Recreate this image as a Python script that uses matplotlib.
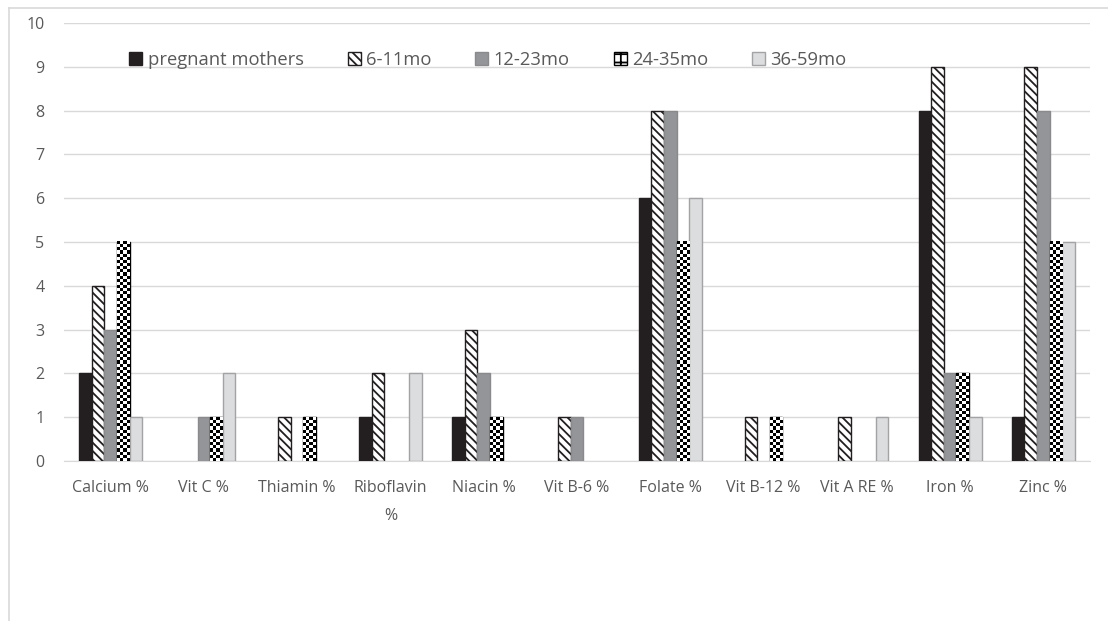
import numpy as np
import matplotlib.pyplot as plt

categories = ['Calcium %', 'Vit C %', 'Thiamin %', 'Riboflavin\n%', 'Niacin %', 'Vit B-6 %',
              'Folate %', 'Vit B-12 %', 'Vit A RE %', 'Iron %', 'Zinc %']
series = ['pregnant mothers', '6-11mo', '12-23mo', '24-35mo', '36-59mo']
pregnant = [2, 0, 0, 1, 1, 0, 6, 0, 0, 8, 1]
m6_11 = [4, 0, 1, 2, 3, 1, 8, 1, 1, 9, 9]
m12_23 = [3, 1, 0, 0, 2, 1, 8, 0, 0, 2, 8]
m24_35 = [5, 1, 1, 0, 1, 0, 5, 1, 0, 2, 5]
m36_59 = [1, 2, 0, 2, 0, 0, 6, 0, 1, 1, 5]
values = [pregnant, m6_11, m12_23, m24_35, m36_59]

styles = [
    dict(color='#231f20', edgecolor='#231f20', hatch=None),
    dict(color='white', edgecolor='#231f20', hatch='\\\\\\\\'),
    dict(color='#939598', edgecolor='#8a8a8d', hatch=None),
    dict(color='white', edgecolor='black', hatch='++'),
    dict(color='#dcdddf', edgecolor='#a3a3a5', hatch=None),
]

plt.rcParams['font.family'] = ['Open Sans', 'DejaVu Sans']
plt.rcParams['hatch.linewidth'] = 1.3

fig = plt.figure(figsize=(11.08, 6.21), dpi=100)
ax = fig.add_axes([64 / 1108, 1 - 461 / 621, 1026 / 1108, 438 / 621])

x = np.arange(len(categories))
w = 0.135
containers = []
for i, (name, vals, st) in enumerate(zip(series, values, styles)):
    lws = [1 if v > 0 else 0 for v in vals]
    bars = ax.bar(x + (i - 2) * w, vals, w, label=name, color=st['color'],
                  edgecolor=st['edgecolor'], hatch=st['hatch'], linewidth=lws, zorder=3)
    containers.append(bars)

# checkerboard fill for the 24-35mo bars
for rect in containers[3]:
    h = rect.get_height()
    if h <= 0:
        continue
    rows = int(round(h * 14))
    board = (np.add.outer(np.arange(rows), np.arange(4)) % 2).astype(float)
    x0 = rect.get_x()
    ax.imshow(board, cmap='gray', extent=[x0, x0 + rect.get_width(), 0, h],
              aspect='auto', interpolation='nearest', zorder=3.5, vmin=0, vmax=1)

ax.set_xlim(-0.5, len(categories) - 0.5)
ax.set_ylim(0, 10)
ax.set_yticks(range(0, 11))
ax.set_xticks(x)
ax.set_xticklabels(categories, fontsize=11.5, color='#595959', linespacing=2.0)
ax.tick_params(axis='y', labelsize=11.5, labelcolor='#595959', length=0, pad=14)
ax.tick_params(axis='x', length=0, pad=14)
ax.grid(axis='y', color='#d9d9d9', linewidth=1, zorder=0)
for s in ['top', 'right', 'left']:
    ax.spines[s].set_visible(False)
ax.spines['bottom'].set_color('#d9d9d9')

ax.legend(loc='center', bbox_to_anchor=(488 / 1108, 1 - 60 / 621), bbox_transform=fig.transFigure,
          ncol=5, frameon=False, fontsize=13.2, handlelength=0.7, handleheight=0.7,
          handletextpad=0.3, columnspacing=2.4, labelcolor='#595959')

# outer chart border
fig.add_artist(plt.Line2D([9 / 1108, 1], [1 - 8 / 621, 1 - 8 / 621], color='#d9d9d9', lw=1.2, transform=fig.transFigure))
fig.add_artist(plt.Line2D([9 / 1108, 9 / 1108], [0, 1 - 8 / 621], color='#d9d9d9', lw=1.2, transform=fig.transFigure))

fig.savefig('out.png', dpi=100)
